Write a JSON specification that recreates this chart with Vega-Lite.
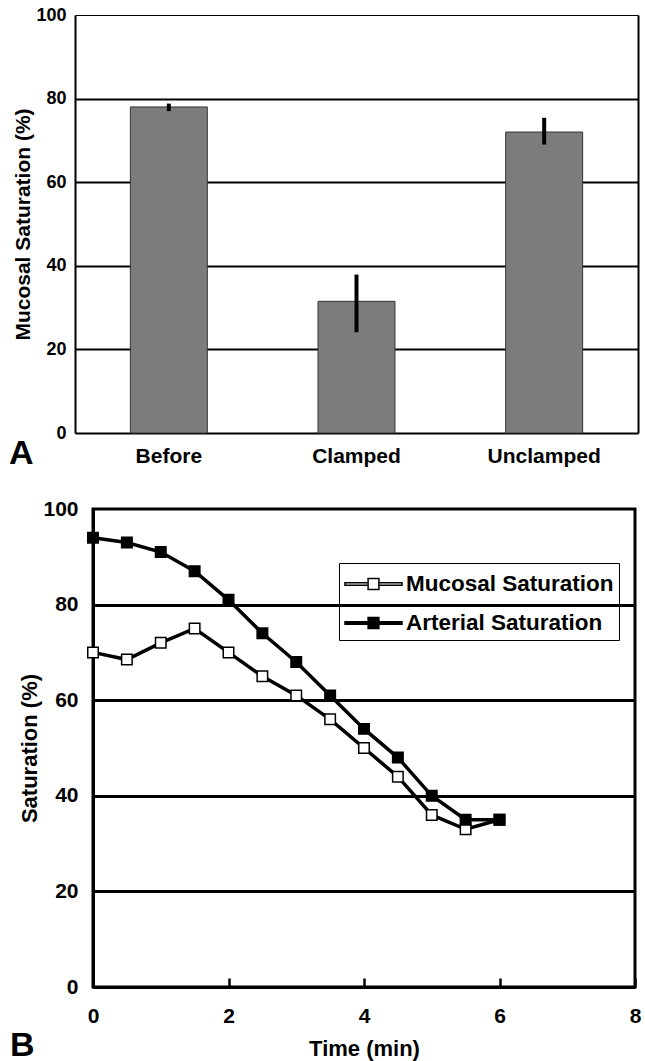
{
  "$schema": "https://vega.github.io/schema/vega-lite/v6.json",
  "padding": {"left": 8, "top": 6, "right": 0, "bottom": 0},
  "spacing": 25,
  "align": "none",
  "resolve": {"legend": {"fill": "independent"}, "scale": {"fill": "independent"}},
  "config": {
    "font": "Liberation Sans",
    "view": {"stroke": "black", "strokeWidth": 2},
    "axis": {"labelColor": "black", "titleColor": "black", "domainColor": "black", "tickColor": "black", "labelFlush": false}
  },
  "vconcat": [
    {
      "width": 545,
      "height": 418,
      "view": {"stroke": null},
      "title": {"text": "A", "orient": "bottom", "anchor": "start", "frame": "bounds", "fontSize": 34, "fontWeight": "bold", "color": "black", "baseline": "top", "offset": -29, "dx": -4},
      "data": {"values": [
        {"condition": "Before", "mean": 78, "low": 77.0, "high": 78.8},
        {"condition": "Clamped", "mean": 31.5, "low": 24.1, "high": 37.9},
        {"condition": "Unclamped", "mean": 72, "low": 69.0, "high": 75.4}
      ]},
      "resolve": {"axis": {"y": "independent"}},
      "layer": [
        {
          "mark": {"type": "bar", "fill": "#7c7c7c", "stroke": "#333333", "strokeWidth": 1},
          "encoding": {
            "x": {"field": "condition", "type": "nominal", "sort": null,
              "scale": {"range": [-18, 545], "paddingInner": 0.59, "paddingOuter": 0.295},
              "axis": {"title": null, "labelAngle": 0, "labelFontSize": 21, "labelFontWeight": "bold", "ticks": false, "labelPadding": 12, "domainWidth": 2}},
            "y": {"field": "mean", "type": "quantitative", "scale": {"domain": [0, 100]},
              "axis": {"title": "Mucosal Saturation (%)", "titleFontSize": 21, "titleFontWeight": "bold", "titlePadding": 2, "offset": 18,
                "values": [0, 20, 40, 60, 80, 100], "labelFontSize": 18, "labelFontWeight": "bold", "ticks": false, "labelPadding": 9,
                "domainWidth": 2, "grid": true, "gridColor": "black",
                "gridWidth": {"condition": {"test": "datum.value === 100", "value": 1}, "value": 2},
                "gridOpacity": {"condition": {"test": "datum.value === 0", "value": 0}, "value": 1}}}
          }
        },
        {
          "mark": {"type": "rule", "strokeWidth": 4, "color": "black"},
          "encoding": {
            "x": {"field": "condition", "type": "nominal", "sort": null},
            "y": {"field": "low", "type": "quantitative",
              "axis": {"orient": "right", "title": null, "labels": false, "ticks": false, "grid": false, "domainWidth": 2}},
            "y2": {"field": "high"}
          }
        }
      ]
    },
    {
      "width": 542,
      "height": 478,
      "view": {"stroke": "black", "strokeWidth": 3},
      "title": {"text": "B", "orient": "bottom", "anchor": "start", "frame": "bounds", "fontSize": 34, "fontWeight": "bold", "color": "black", "baseline": "top", "offset": -30, "dx": -9},
      "data": {"values": [
        {"series": "Mucosal Saturation", "t": 0, "sat": 70},
        {"series": "Mucosal Saturation", "t": 0.5, "sat": 68.5},
        {"series": "Mucosal Saturation", "t": 1, "sat": 72},
        {"series": "Mucosal Saturation", "t": 1.5, "sat": 75},
        {"series": "Mucosal Saturation", "t": 2, "sat": 70},
        {"series": "Mucosal Saturation", "t": 2.5, "sat": 65},
        {"series": "Mucosal Saturation", "t": 3, "sat": 61},
        {"series": "Mucosal Saturation", "t": 3.5, "sat": 56},
        {"series": "Mucosal Saturation", "t": 4, "sat": 50},
        {"series": "Mucosal Saturation", "t": 4.5, "sat": 44},
        {"series": "Mucosal Saturation", "t": 5, "sat": 36},
        {"series": "Mucosal Saturation", "t": 5.5, "sat": 33},
        {"series": "Mucosal Saturation", "t": 6, "sat": 35},
        {"series": "Arterial Saturation", "t": 0, "sat": 94},
        {"series": "Arterial Saturation", "t": 0.5, "sat": 93},
        {"series": "Arterial Saturation", "t": 1, "sat": 91},
        {"series": "Arterial Saturation", "t": 1.5, "sat": 87},
        {"series": "Arterial Saturation", "t": 2, "sat": 81},
        {"series": "Arterial Saturation", "t": 2.5, "sat": 74},
        {"series": "Arterial Saturation", "t": 3, "sat": 68},
        {"series": "Arterial Saturation", "t": 3.5, "sat": 61},
        {"series": "Arterial Saturation", "t": 4, "sat": 54},
        {"series": "Arterial Saturation", "t": 4.5, "sat": 48},
        {"series": "Arterial Saturation", "t": 5, "sat": 40},
        {"series": "Arterial Saturation", "t": 5.5, "sat": 35},
        {"series": "Arterial Saturation", "t": 6, "sat": 35}
      ]},
      "layer": [
        {
          "mark": {"type": "line", "color": "black", "strokeWidth": 3.5},
          "encoding": {
            "x": {"field": "t", "type": "quantitative", "scale": {"domain": [0, 8], "nice": false},
              "axis": {"title": "Time (min)", "titleFontSize": 22, "titleFontWeight": "bold", "titlePadding": 12,
                "values": [0, 2, 4, 6, 8], "format": "d", "labelFontSize": 21, "labelFontWeight": "bold",
                "tickSize": -9, "tickWidth": 2.5, "labelPadding": 27, "domainWidth": 3, "grid": false, "zindex": 2}},
            "y": {"field": "sat", "type": "quantitative", "scale": {"domain": [0, 100]},
              "axis": {"title": "Saturation (%)", "titleFontSize": 22, "titleFontWeight": "bold", "titlePadding": 1,
                "values": [0, 20, 40, 60, 80, 100], "format": "d", "labelFontSize": 21, "labelFontWeight": "bold", "ticks": false, "labelPadding": 15,
                "domainWidth": 3, "grid": true, "gridColor": "black", "gridWidth": 3,
                "gridOpacity": {"condition": {"test": "datum.value === 0 || datum.value === 100", "value": 0}, "value": 1}}},
            "detail": {"field": "series"}
          }
        },
        {
          "mark": {"type": "point", "shape": "square", "size": 110, "stroke": "black", "strokeWidth": 1.5, "opacity": 1},
          "encoding": {
            "x": {"field": "t", "type": "quantitative"},
            "y": {"field": "sat", "type": "quantitative"},
            "fill": {"field": "series", "type": "nominal",
              "scale": {"domain": ["Mucosal Saturation", "Arterial Saturation"], "range": ["white", "black"]},
              "legend": {"title": null, "orient": "none", "legendX": 246, "legendY": 54,
                "strokeColor": "black", "padding": 5,
                "labelFontSize": 22.5, "labelFontWeight": "bold", "labelColor": "black", "labelFont": "Liberation Sans", "labelOffset": 30, "labelLimit": 400,
                "rowPadding": 11, "symbolSize": 900,
                "symbolType": "M-1,-0.08H0.54V0.08H-1Z M1.26,-0.08H2.8V0.08H1.26Z M0.54,-0.36H1.26V0.36H0.54Z",
                "encode": {"symbols": {"update": {
                  "shape": {"value": "M-1,-0.08H0.54V0.08H-1Z M1.26,-0.08H2.8V0.08H1.26Z M0.54,-0.36H1.26V0.36H0.54Z"},
                  "size": {"value": 900},
                  "stroke": {"value": "black"},
                  "strokeWidth": {"value": 2}
                }}}}}
          }
        }
      ]
    }
  ]
}
